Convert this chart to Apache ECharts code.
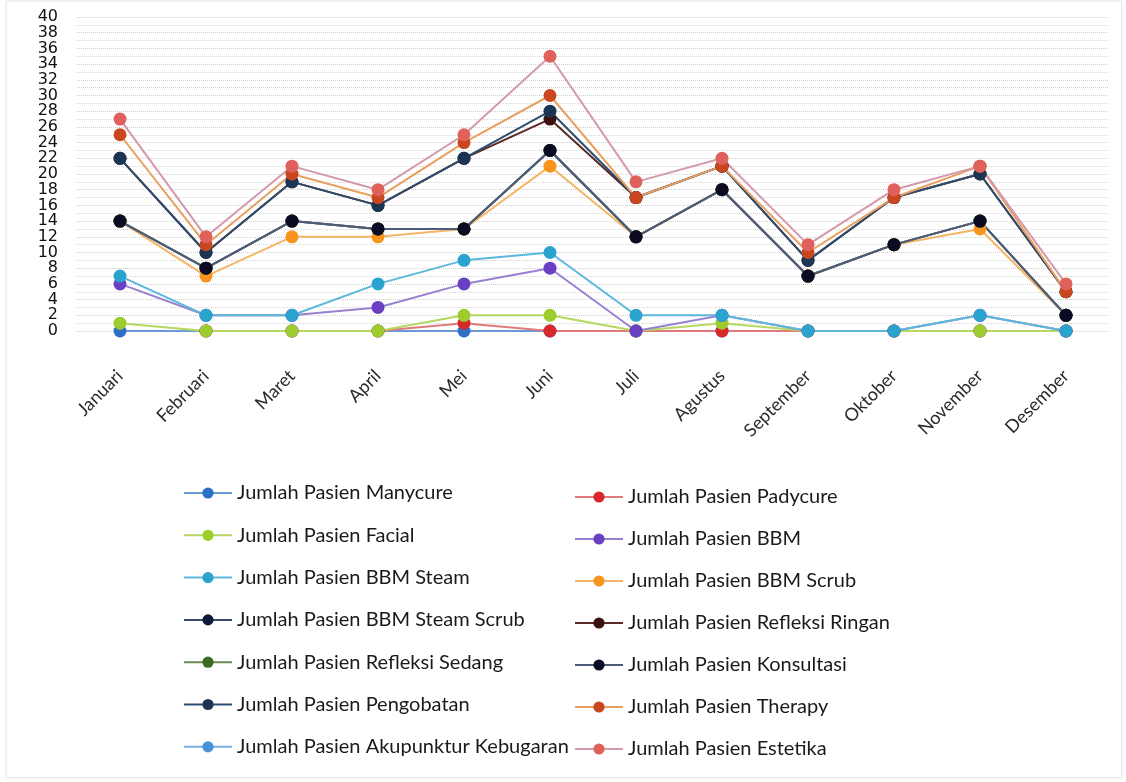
<!DOCTYPE html>
<html>
<head>
<meta charset="utf-8">
<script src="https://cdn.jsdelivr.net/npm/echarts@6/dist/echarts.min.js"></script>
<style>
html,body{margin:0;padding:0;background:#fff;}
#chart{width:1126px;height:782px;}
</style>
</head>
<body>
<div id="chart"></div>
<script>
// Categories (months)
const months = ['Januari','Februari','Maret','April','Mei','Juni','Juli','Agustus','September','Oktober','November','Desember'];
// Y-axis tick labels
const yTicks = [0,2,4,6,8,10,12,14,16,18,20,22,24,26,28,30,32,34,36,38,40];

// Series names (legend order)
const seriesNames = [
  'Jumlah Pasien Manycure','Jumlah Pasien Padycure',
  'Jumlah Pasien Facial','Jumlah Pasien BBM',
  'Jumlah Pasien BBM Steam','Jumlah Pasien BBM Scrub',
  'Jumlah Pasien BBM Steam Scrub','Jumlah Pasien Refleksi Ringan',
  'Jumlah Pasien Refleksi Sedang','Jumlah Pasien Konsultasi',
  'Jumlah Pasien Pengobatan','Jumlah Pasien Therapy',
  'Jumlah Pasien Akupunktur Kebugaran','Jumlah Pasien Estetika'
];

// Values (axis level of each marker)
const manycure   = [0,0,0,0,0,0,0,0,0,0,0,0];
const padycure   = [null,0,0,0,1,0,0,0,0,0,0,0];
const facial     = [1,0,0,0,2,2,0,1,0,0,0,0];
const bbm        = [6,2,2,3,6,8,0,2,0,0,2,0];
const bbmSteam   = [7,2,2,6,9,10,2,2,0,0,2,0];
const bbmScrub   = [14,7,12,12,13,21,12,18,7,11,13,2];
const steamScrub = [14,8,14,13,13,23,12,18,7,11,14,2];
const refRingan  = [22,10,19,16,22,27,17,21,9,17,20,5];
const refSedang  = [14,8,14,13,13,23,12,18,7,11,14,2];
const konsultasi = [14,8,14,13,13,23,12,18,7,11,14,2];
const pengobatan = [22,10,19,16,22,28,17,21,9,17,20,5];
const therapy    = [25,11,20,17,24,30,17,21,10,17,21,5];
const akupunktur = [null,null,null,null,null,null,null,null,null,null,null,null];
const estetika   = [27,12,21,18,25,35,19,22,11,18,21,6];

const allData = [manycure,padycure,facial,bbm,bbmSteam,bbmScrub,steamScrub,refRingan,refSedang,konsultasi,pengobatan,therapy,akupunktur,estetika];

const markerColors = ['#2e6fc7','#d7282c','#9ccc2e','#6b3fc4','#2ba3cf','#f7941e','#0f1a3c','#3b1210','#3e6b22','#0b0b24','#1c3554','#c9471f','#4a92d8','#e0615c'];
const lineColors   = ['#6a9ad8','#e07a7a','#b5d860','#9a80d0','#5cb8da','#f5b567','#3b4a6b','#5a2a25','#6a8a50','#4e5a7c','#2e4d6e','#e8a060','#7ab0e0','#d39aac'];

const series = seriesNames.map((name, i) => ({
  name: name,
  type: 'line',
  yAxisIndex: 0,
  data: allData[i],
  symbol: 'circle',
  symbolSize: 13,
  showSymbol: true,
  connectNulls: false,
  lineStyle: { color: lineColors[i], width: 2 },
  itemStyle: { color: markerColors[i] },
  emphasis: { disabled: true },
  animation: false
}));

const leftNames = seriesNames.filter((_, i) => i % 2 === 0);
const rightNames = seriesNames.filter((_, i) => i % 2 === 1);

const legendText = { fontFamily: 'Lato', fontSize: 20, color: '#1a1a1a', lineHeight: 18 };
const yLabel = { margin: 19, fontFamily: 'DejaVu Sans', fontSize: 16, color: '#111' };

const chart = echarts.init(document.getElementById('chart'), null, { renderer: 'canvas' });
chart.setOption({
  backgroundColor: '#ffffff',
  animation: false,
  grid: { left: 77, right: 17, top: 17, bottom: 451, containLabel: false },
  xAxis: {
    type: 'category',
    data: months,
    boundaryGap: true,
    axisLine: { show: false },
    axisTick: { show: false },
    axisLabel: { rotate: 45, margin: 42, fontFamily: 'Lato', fontSize: 18, color: '#2a2a2a' },
    splitLine: { show: false }
  },
  yAxis: [
    {
      type: 'value',
      position: 'left',
      min: yTicks[0],
      max: yTicks[yTicks.length - 1],
      interval: yTicks[1] - yTicks[0],
      axisLine: { show: false },
      axisTick: { show: false },
      axisLabel: Object.assign({}, yLabel, { showMinLabel: false, showMaxLabel: false }),
      splitLine: { show: true, lineStyle: { color: '#cfcfcf', type: 'dotted', width: 1 } },
      minorTick: { show: false, splitNumber: 2 },
      minorSplitLine: { show: true, lineStyle: { color: '#d6d6d6', type: 'dotted', width: 1 } }
    },
    {
      type: 'value',
      position: 'left',
      offset: 0,
      min: yTicks[0],
      max: yTicks[yTicks.length - 1],
      interval: yTicks[yTicks.length - 1] - yTicks[0],
      axisLine: { show: false },
      axisTick: { show: false },
      axisLabel: yLabel,
      splitLine: { show: false }
    }
  ],
  legend: [
    { data: leftNames, orient: 'vertical', left: 183, top: 483, padding: 0, itemWidth: 48, itemHeight: 14, itemGap: 22.3, textStyle: legendText, selectedMode: false },
    { data: rightNames, orient: 'vertical', left: 574, top: 487, padding: 0, itemWidth: 48, itemHeight: 14, itemGap: 22, textStyle: legendText, selectedMode: false }
  ],
  graphic: [
    { type: 'rect', shape: { x: 6, y: 1, width: 1116, height: 777 }, style: { fill: 'none', stroke: '#e2e2e2', lineWidth: 1 }, silent: true, z: -10 }
  ],
  series: series
});
</script>
</body>
</html>
